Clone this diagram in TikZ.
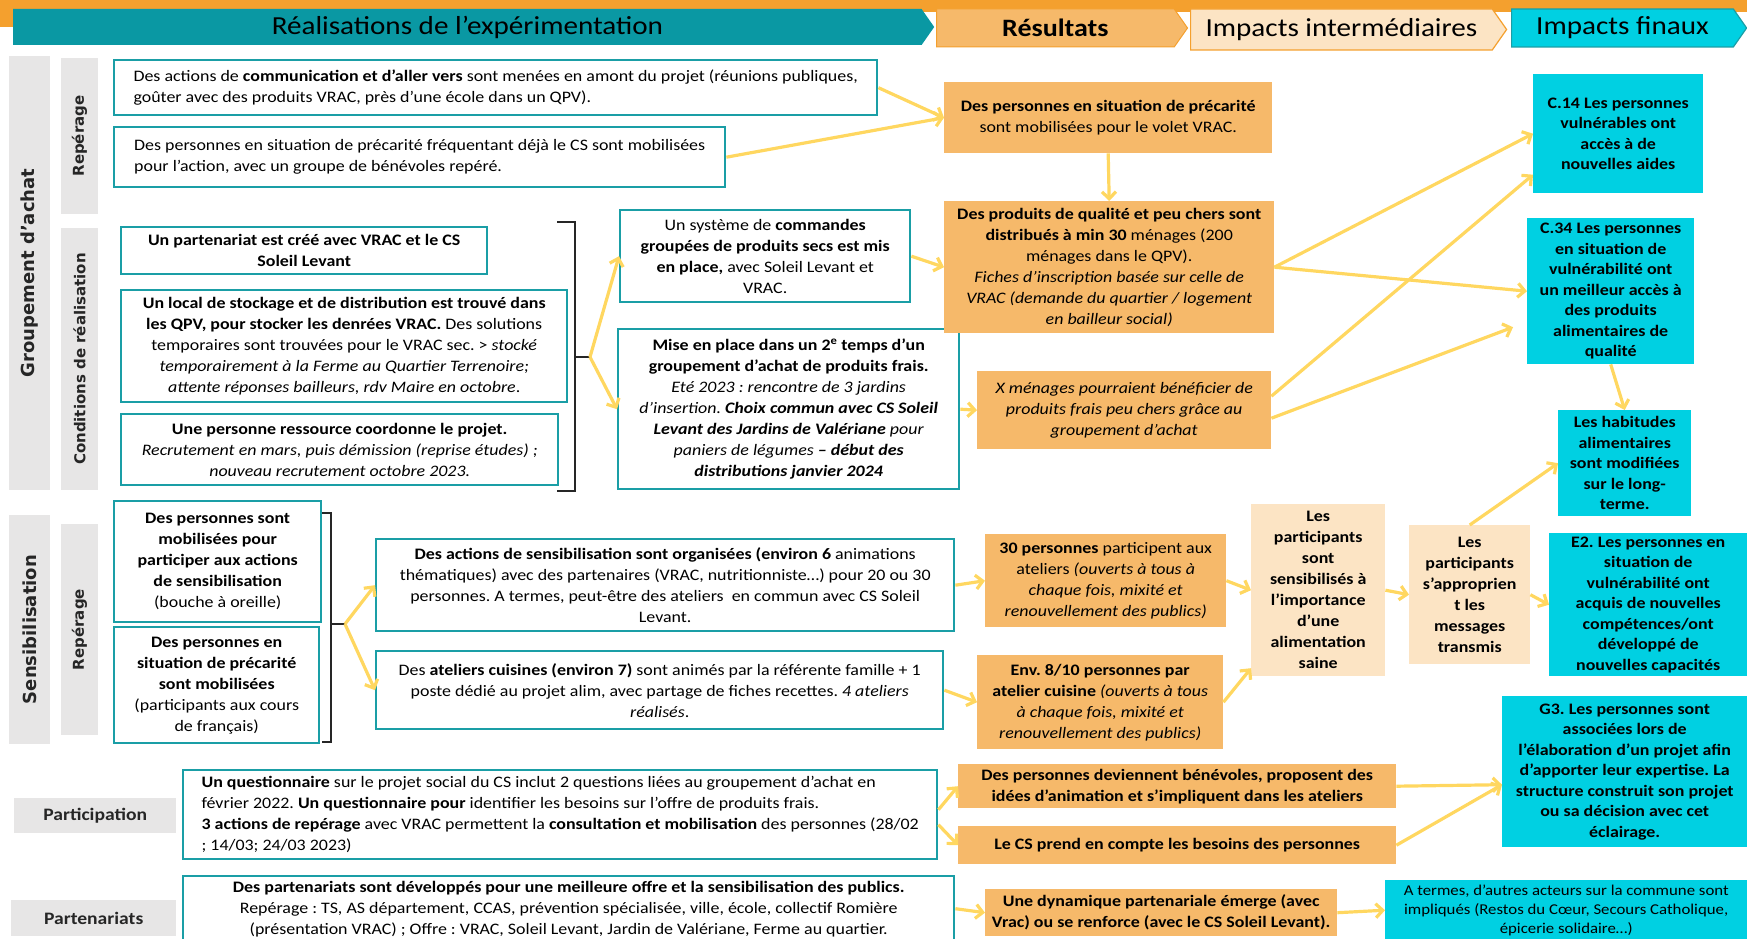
\documentclass[tikz,border=0pt]{standalone}
\usepackage{fontspec}
\setmainfont{Carlito}[FakeStretch=1.12]
\newfontfamily\widefont{DejaVu Sans}
\usepackage{tikz}
\usetikzlibrary{arrows.meta, positioning, shapes.symbols, calc}
\definecolor{tealline}{RGB}{26,158,166}
\definecolor{tealhead}{RGB}{10,152,163}
\definecolor{resorange}{RGB}{246,185,106}
\definecolor{peach}{RGB}{252,228,196}
\definecolor{finalcyan}{RGB}{0,208,226}
\definecolor{labelgray}{RGB}{231,230,230}
\definecolor{arrowyellow}{RGB}{255,215,96}
\definecolor{bandorange}{RGB}{244,160,46}
\frenchspacing

\begin{document}
\begin{tikzpicture}[x=1pt, y=-1pt,
    boxsize/.style 2 args={minimum width=#1pt, minimum height=#2pt},
    realbox/.style={draw=tealline, line width=2.4pt, fill=white, anchor=north west, inner sep=2pt, align=center, font=\fontsize{16}{21}\selectfont},
    resbox/.style={fill=resorange, anchor=north west, inner sep=2pt, align=center, font=\fontsize{16}{21}\selectfont},
    interbox/.style={fill=peach, anchor=north west, inner sep=1pt, align=center, font=\bfseries\fontsize{16}{21}\selectfont},
    finalbox/.style={fill=finalcyan, anchor=north west, inner sep=1pt, align=center, font=\bfseries\fontsize{16}{20.5}\selectfont},
    sidelabel/.style={fill=labelgray, inner sep=0pt, rotate=90, text=black!85, font=\widefont\bfseries\fontsize{18}{21}\selectfont},
    sublabel/.style={sidelabel, font=\widefont\bfseries\fontsize{15}{18}\selectfont},
    rowlabel/.style={fill=labelgray, anchor=north west, inner sep=0pt, text=black!85, font=\bfseries\fontsize{17.5}{20}\selectfont},
    header/.style={shape=signal, signal to=east, signal pointer angle=110, anchor=west, inner sep=0pt, font=\fontsize{26}{30}\selectfont},
    arrow/.style={-{Straight Barb[length=7pt, width=14pt]}, line width=3.2pt, arrowyellow},
    bracket/.style={line width=1.3pt, black!85}
]
    \useasboundingbox (0,0) rectangle (1747,939);

    % Header band
    \fill[bandorange] (0,0) rectangle (1747,12);
    \fill[bandorange] (0,0) rectangle (14,27);
    \node[header, fill=tealhead, boxsize={921}{36}] (hdrreal) at (13,27) {Réalisations de l’expérimentation};
    \node[header, fill=resorange, draw=bandorange, line width=1pt, boxsize={251}{38}, font=\bfseries\fontsize{25}{30}\selectfont] (hdrres) at (936,28) {Résultats};
    \node[header, fill=peach, draw=bandorange, line width=1.2pt, boxsize={316}{41}] (hdrinter) at (1190,29.5) {Impacts intermédiaires};
    \node[header, fill=finalcyan, draw=tealline, line width=1.2pt, boxsize={235}{38}] (hdrfinal) at (1511,28) {Impacts finaux};

    % Side labels
    \node[sidelabel, boxsize={434}{41}] (lblgroup) at (29.5,273) {Groupement d’achat};
    \node[sublabel, boxsize={156}{37}] (lblrep1) at (79.5,136) {Repérage};
    \node[sublabel, boxsize={262}{37}] (lblcond) at (79.5,359) {Conditions de réalisation};
    \node[sidelabel, boxsize={229}{41}] (lblsens) at (29.5,629.5) {Sensibilisation};
    \node[sublabel, boxsize={211}{37}] (lblrep2) at (79.5,629.5) {Repérage};
    \node[rowlabel, boxsize={162}{35}] (lblpart) at (14,798) {Participation};
    \node[rowlabel, boxsize={165}{36}] (lblpartners) at (11,900) {Partenariats};

    % Realisations - groupement d'achat
    \node[realbox, boxsize={763}{55}, align=left] (comm) at (113,59) {Des actions de \textbf{communication et d’aller vers} sont menées en amont du projet (réunions publiques,\\goûter avec des produits VRAC, près d’une école dans un QPV).};
    \node[realbox, boxsize={611}{60}, align=left] (precar) at (113,126) {Des personnes en situation de précarité fréquentant déjà le CS sont mobilisées\\pour l’action, avec un groupe de bénévoles repéré.};
    \node[realbox, boxsize={366}{47}, font=\bfseries\fontsize{16}{21}\selectfont] (partner) at (120,226) {Un partenariat est créé avec VRAC et le CS\\Soleil Levant};
    \node[realbox, boxsize={446}{112}] (storage) at (120,289) {\textbf{Un local de stockage et de distribution est trouvé dans}\\\textbf{les QPV, pour stocker les denrées VRAC.} Des solutions\\temporaires sont trouvées pour le VRAC sec. > \textit{stocké}\\\textit{temporairement à la Ferme au Quartier Terrenoire;}\\\textit{attente réponses bailleurs, rdv Maire en octobre}.};
    \node[realbox, boxsize={437}{71}] (resource) at (120,413) {\textbf{Une personne ressource coordonne le projet.}\\\textit{Recrutement en mars, puis démission (reprise études) ;}\\\textit{nouveau recrutement octobre 2023.}};
    \node[realbox, boxsize={290}{92}] (dryorder) at (619,209) {Un système de \textbf{commandes}\\\textbf{groupées de produits secs est mis}\\\textbf{en place,} avec Soleil Levant et\\VRAC.};
    \node[realbox, boxsize={341}{160}, inner sep=1pt] (freshbuy) at (617,328) {\textbf{Mise en place dans un 2\textsuperscript{e} temps d’un}\\\textbf{groupement d’achat de produits frais.}\\\textit{Eté 2023 : rencontre de 3 jardins}\\\textit{d’insertion. \textbf{Choix commun avec CS Soleil}}\\\textit{\textbf{Levant des Jardins de Valériane} pour}\\\textit{paniers de légumes \textbf{– début des}}\\\textit{\textbf{distributions janvier 2024}}};

    % Realisations - sensibilisation
    \node[realbox, boxsize={207}{121}] (sensmob) at (113,500) {\textbf{Des personnes sont}\\\textbf{mobilisées pour}\\\textbf{participer aux actions}\\\textbf{de sensibilisation}\\(bouche à oreille)};
    \node[realbox, boxsize={205}{116}] (sensprec) at (113,626) {\textbf{Des personnes en}\\\textbf{situation de précarité}\\\textbf{sont mobilisées}\\(participants aux cours\\de français)};
    \node[realbox, boxsize={578}{92}] (sensact) at (375,538) {\textbf{Des actions de sensibilisation sont organisées (environ 6} animations\\thématiques) avec des partenaires (VRAC, nutritionniste…) pour 20 ou 30\\personnes. A termes, peut-être des ateliers~ en commun avec CS Soleil\\Levant.};
    \node[realbox, boxsize={567}{78}] (cooking) at (375,650) {Des \textbf{ateliers cuisines (environ 7)} sont animés par la référente famille + 1\\poste dédié au projet alim, avec partage de fiches recettes. \textit{4 ateliers}\\\textit{réalisés}.};

    % Realisations - participation, partenariats
    \node[realbox, boxsize={754}{89}, align=left] (survey) at (182,769) {\textbf{Un questionnaire} sur le projet social du CS inclut 2 questions liées au groupement d’achat en\\février 2022. \textbf{Un questionnaire pour} identifier les besoins sur l’offre de produits frais.\\\textbf{3 actions de repérage} avec VRAC permettent la \textbf{consultation et mobilisation} des personnes (28/02\\; 14/03; 24/03 2023)};
    \node[realbox, boxsize={771}{65}] (partners) at (182,875) {\textbf{Des partenariats sont développés pour une meilleure offre et la sensibilisation des publics.}\\Repérage : TS, AS département, CCAS, prévention spécialisée, ville, école, collectif Romière\\(présentation VRAC) ; Offre : VRAC, Soleil Levant, Jardin de Valériane, Ferme au quartier.};

    % Brackets
    \draw[bracket] (557,222) -- (575,222) -- (575,491) -- (557,491);
    \draw[bracket] (575,357) -- (590,357) coordinate (condjoin);
    \draw[bracket] (322,513) -- (331,513) -- (331,742) -- (322,742);
    \draw[bracket] (331,624) -- (345,624) coordinate (sensjoin);

    % Resultats
    \node[resbox, boxsize={328}{71}] (resmob) at (944,82) {\textbf{Des personnes en situation de précarité}\\sont mobilisées pour le volet VRAC.};
    \node[resbox, boxsize={330}{132}] (resdist) at (944,201) {\textbf{Des produits de qualité et peu chers sont}\\\textbf{distribués à min 30} ménages (200\\ménages dans le QPV).\\\textit{Fiches d’inscription basée sur celle de}\\\textit{VRAC (demande du quartier / logement}\\\textit{en bailleur social)}};
    \node[resbox, boxsize={294}{78}] (resfresh) at (977,371) {\textit{X ménages pourraient bénéficier de}\\\textit{produits frais peu chers grâce au}\\\textit{groupement d’achat}};
    \node[resbox, boxsize={241}{93}] (resworkshops) at (985,534) {\textbf{30 personnes} participent aux\\ateliers \textit{(ouverts à tous à}\\\textit{chaque fois, mixité et}\\\textit{renouvellement des publics)}};
    \node[resbox, boxsize={246}{94}] (rescooking) at (977,655) {\textbf{Env. 8/10 personnes par}\\\textbf{atelier cuisine} \textit{(ouverts à tous}\\\textit{à chaque fois, mixité et}\\\textit{renouvellement des publics)}};
    \node[resbox, boxsize={438}{44}, font=\bfseries\fontsize{16}{21}\selectfont] (resvolunteer) at (958,764) {Des personnes deviennent bénévoles, proposent des\\idées d’animation et s’impliquent dans les ateliers};
    \node[resbox, boxsize={438}{38}, font=\bfseries\fontsize{16}{21}\selectfont] (resneeds) at (958,826) {Le CS prend en compte les besoins des personnes};
    \node[resbox, boxsize={352}{47}, font=\bfseries\fontsize{16}{21}\selectfont] (resdynamic) at (985,889) {Une dynamique partenariale émerge (avec\\Vrac) ou se renforce (avec le CS Soleil Levant).};

    % Impacts intermediaires
    \node[interbox, boxsize={134}{172}] (intaware) at (1251,504) {Les\\participants\\sont\\sensibilisés à\\l’importance\\d’une\\alimentation\\saine};
    \node[interbox, boxsize={121}{139}] (intown) at (1409,525) {Les\\participants\\s’approprien\\t les\\messages\\transmis};

    % Impacts finaux
    \node[finalbox, boxsize={170}{119}] (finaids) at (1533,74) {C.14 Les personnes\\vulnérables ont\\accès à de\\nouvelles aides};
    \node[finalbox, boxsize={167}{146}] (finaccess) at (1527,218) {C.34 Les personnes\\en situation de\\vulnérabilité ont\\un meilleur accès à\\des produits\\alimentaires de\\qualité};
    \node[finalbox, boxsize={133}{106}] (finhabits) at (1558,410) {Les habitudes\\alimentaires\\sont modifiées\\sur le long-\\terme.};
    \node[finalbox, boxsize={198}{143}] (finskills) at (1549,533) {E2. Les personnes en\\situation de\\vulnérabilité ont\\acquis de nouvelles\\compétences/ont\\développé de\\nouvelles capacités};
    \node[finalbox, boxsize={245}{151}] (finassoc) at (1502,696) {G3. Les personnes sont\\associées lors de\\l'élaboration d'un projet afin\\d'apporter leur expertise. La\\structure construit son projet\\ou sa décision avec cet\\éclairage.};
    \node[finalbox, boxsize={362}{60}, font=\fontsize{15}{19}\selectfont] (finactors) at (1385,880) {A termes, d’autres acteurs sur la commune sont\\impliqués (Restos du Cœur, Secours Catholique,\\épicerie solidaire…)};

    % Arrows
    \draw[arrow] (comm.east) -- (resmob.west);
    \draw[arrow] (precar.east) -- (resmob.west);
    \draw[arrow] (resmob.south) -- (resdist.north);
    \draw[arrow] (condjoin) -- (dryorder.west);
    \draw[arrow] (condjoin) -- (freshbuy.west);
    \draw[arrow] (dryorder.east) -- (resdist.west);
    \draw[arrow] (freshbuy.east) -- (resfresh.west);
    \draw[arrow] (resdist.east) -- (finaids.west);
    \draw[arrow] (resdist.east) -- (finaccess.west);
    \draw[arrow] ([yshift=14pt]resfresh.east) -- ([yshift=-41pt]finaids.west);
    \draw[arrow] ([yshift=-8pt]resfresh.east) -- ([xshift=-14pt, yshift=-36pt]finaccess.west);
    \draw[arrow] (finaccess.south) -- (finhabits.north);
    \draw[arrow] (intown.north) -- (finhabits.west);
    \draw[arrow] (sensjoin) -- (sensact.west);
    \draw[arrow] (sensjoin) -- (cooking.west);
    \draw[arrow] (sensact.east) -- (resworkshops.west);
    \draw[arrow] (cooking.east) -- (rescooking.west);
    \draw[arrow] (resworkshops.east) -- (intaware.west);
    \draw[arrow] (rescooking.east) -- ([yshift=-78pt]intaware.west);
    \draw[arrow] (intaware.east) -- (intown.west);
    \draw[arrow] (intown.east) -- (finskills.west);
    \draw[arrow] ([yshift=5pt]survey.east) -- (resvolunteer.west);
    \draw[arrow] ([yshift=-10pt]survey.east) -- (resneeds.west);
    \draw[arrow] (resvolunteer.east) -- ([yshift=-13pt]finassoc.west);
    \draw[arrow] (resneeds.east) -- ([yshift=-13pt]finassoc.west);
    \draw[arrow] (partners.east) -- (resdynamic.west);
    \draw[arrow] (resdynamic.east) -- (finactors.west);
\end{tikzpicture}
\end{document}
